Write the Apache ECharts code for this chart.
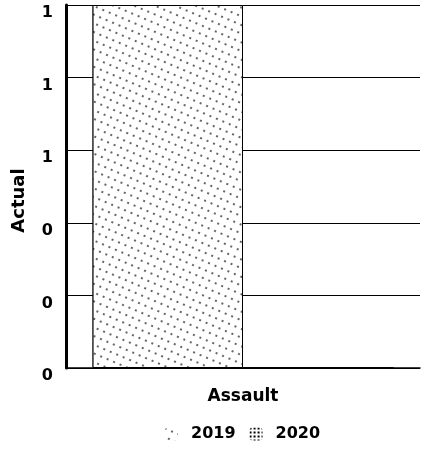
<!DOCTYPE html>
<html>
<head>
<meta charset="utf-8">
<script src="https://cdn.jsdelivr.net/npm/echarts@6/dist/echarts.min.js"></script>
<style>html,body{margin:0;padding:0;background:#fff}#c{width:430px;height:450px}</style>
</head>
<body>
<div id="c"></div>
<script>
const categories = ['Assault'];
const seriesNames = ['2019', '2020'];
const values2019 = [1.0];
const values2020 = [0.0];
const yTicks = [0, 0.2, 0.4, 0.6, 0.8, 1.0];

const chart = echarts.init(document.getElementById('c'), null, {renderer: 'canvas'});
const font = 'DejaVu Sans';
const decal2019 = {symbol: 'rect', symbolSize: 0.8, color: '#000', backgroundColor: '#fff', dashArrayX: [2, 5], dashArrayY: [2, 6], rotation: 0.4};
const decal2020 = {symbol: 'rect', symbolSize: 1, color: '#000', backgroundColor: '#fff', dashArrayX: [2, 2], dashArrayY: [2, 2], rotation: 0};
chart.setOption({
  animation: false,
  backgroundColor: '#fff',
  aria: {enabled: true, decal: {show: true}},
  grid: {left: 66, right: 10, top: 5, bottom: 82},
  legend: {
    data: seriesNames,
    left: 160, bottom: 3,
    itemWidth: 13, itemHeight: 13, itemGap: 14,
    itemStyle: {borderWidth: 0},
    textStyle: {fontFamily: font, fontWeight: 'bold', fontSize: 16, color: '#000', padding: [0, 0, 0, 8]}
  },
  xAxis: {
    type: 'category',
    data: categories,
    axisLine: {lineStyle: {color: '#000', width: 1.5}},
    axisTick: {show: false},
    axisLabel: {fontFamily: font, fontWeight: 'bold', fontSize: 17, color: '#000', margin: 20}
  },
  yAxis: {
    type: 'value',
    min: 0, max: 1, interval: 0.2,
    name: 'Actual',
    nameLocation: 'middle',
    nameGap: 38,
    nameTextStyle: {fontFamily: font, fontWeight: 'bold', fontSize: 18, color: '#000', padding: [0, 28, 0, 0]},
    axisLine: {show: true, lineStyle: {color: '#000', width: 3}},
    axisTick: {show: false},
    splitLine: {lineStyle: {color: '#000', width: 1}},
    axisLabel: {
      fontFamily: font, fontWeight: 'bold', fontSize: 16, color: '#000', margin: 13,
      verticalAlign: 'top',
      formatter: v => String(Math.round(v))
    }
  },
  series: [
    {name: seriesNames[0], type: 'bar', data: values2019, barGap: '0%', barCategoryGap: '15%',
     itemStyle: {color: '#fff', borderColor: '#000', borderWidth: 1, decal: decal2019}},
    {name: seriesNames[1], type: 'bar', data: values2020,
     itemStyle: {color: '#fff', borderColor: '#000', borderWidth: 1, decal: decal2020}}
  ]
});
</script>
</body>
</html>
